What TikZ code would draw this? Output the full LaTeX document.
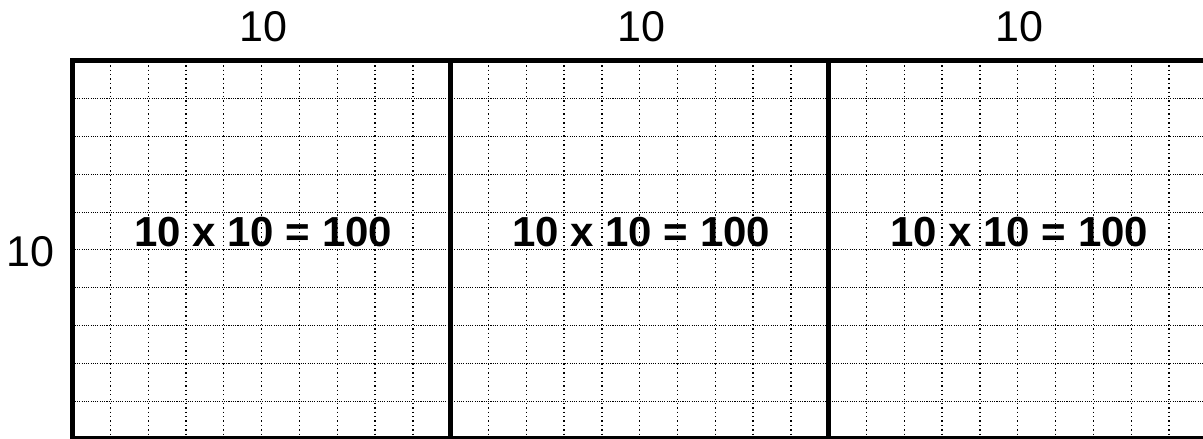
\documentclass[tikz,border=0pt]{standalone}
\usepackage{fontspec}
\setmainfont{Liberation Sans}
\usetikzlibrary{positioning}

\tikzset{
  hdots/.style={line width=0.8pt, dash pattern=on 0.8pt off 0.9pt},
  vdots/.style={line width=1pt, dash pattern=on 1pt off 2.3pt},
  border/.style={line width=3.7pt},
  sidelabel/.style={font=\fontsize{32.4}{36}\selectfont, anchor=base},
  arealabel/.style={font=\fontsize{31.6}{36}\selectfont\bfseries, anchor=base},
}

\begin{document}
\begin{tikzpicture}

      % Fix the margins (the third square runs off the right edge).
      \useasboundingbox (-1.92,-10) rectangle (29.9,1.61);

      % Dotted unit grid.
      \foreach \y in {1,...,9}
        \draw[hdots] (0,-\y) -- (30,-\y);
      \foreach \x in {1,...,29} {
        \pgfmathtruncatemacro{\r}{mod(\x,10)}
        \ifnum\r>0
          \draw[vdots] (\x,0) -- (\x,-10);
        \fi
      }

      % Draw the three squares.
      \draw[border] (0,0) rectangle (30,-10);
      \draw[border] (10,0) -- (10,-10);
      \draw[border] (20,0) -- (20,-10);

      % Side lengths and areas.
      \node[sidelabel] (side) at (-1.11,-5.43) {10};
      \foreach \i/\x in {1/5.04, 2/15.04, 3/25.04} {
        \node[sidelabel] (top\i) at (\x,0.5) {10};
        \node[arealabel] (area\i) at (\x,-4.9) {10 x 10 = 100};
      }

\end{tikzpicture}
\end{document}
